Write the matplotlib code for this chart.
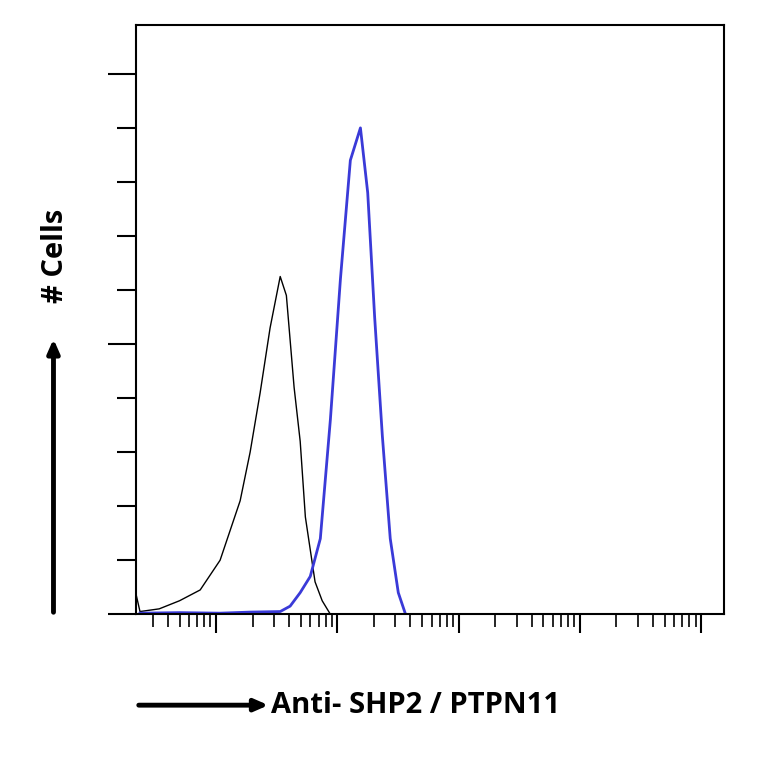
import numpy as np
from matplotlib import pyplot as plt
from matplotlib.ticker import LogLocator, NullFormatter, MultipleLocator

# Données (intensité, nombre de cellules en unités de graduation)
isotype_x = [2.1, 2.36, 3.4, 5.0, 7.4, 10.8, 15.8, 19.1, 23.1, 27.9, 33.8, 38.0, 44.0, 49.4, 54.5, 65.5, 75.0, 87.6]
isotype_y = [0.55, 0.05, 0.1, 0.25, 0.45, 1.0, 2.1, 3.0, 4.1, 5.3, 6.25, 5.9, 4.2, 3.2, 1.8, 0.6, 0.25, 0.0]

shp2_x = [2.36, 5.0, 10.8, 19.1, 33.8, 40.8, 49.4, 59.8, 72.4, 87.6, 106, 128, 155, 178, 203, 235, 273, 318, 365]
shp2_y = [0.02, 0.03, 0.02, 0.04, 0.05, 0.15, 0.4, 0.7, 1.4, 3.6, 6.2, 8.4, 9.0, 7.8, 5.5, 3.3, 1.4, 0.4, 0.0]

fig = plt.figure(figsize=(7.64, 7.64), dpi=100)
ax = fig.add_axes([0.178, 0.196, 0.77, 0.771])

ax.plot(isotype_x, isotype_y, color="black", lw=1.0)
ax.plot(shp2_x, shp2_y, color="#3a3ad8", lw=2.0)

ax.set_xscale("log")
ax.set_xlim(10 ** 0.34, 10 ** 5.19)
ax.set_ylim(0, 10.9)
ax.xaxis.set_major_locator(LogLocator(base=10, numticks=10))
ax.xaxis.set_minor_locator(LogLocator(base=10, subs=np.arange(2, 10), numticks=20))
ax.xaxis.set_major_formatter(NullFormatter())
ax.xaxis.set_minor_formatter(NullFormatter())
ax.yaxis.set_major_locator(MultipleLocator(5))
ax.yaxis.set_minor_locator(MultipleLocator(1))
ax.yaxis.set_major_formatter(NullFormatter())
ax.tick_params(axis="x", which="major", length=14, width=1.5, direction="out")
ax.tick_params(axis="x", which="minor", length=9, width=1.2, direction="out")
ax.tick_params(axis="y", which="major", length=20, width=1.5, direction="out")
ax.tick_params(axis="y", which="minor", length=14, width=1.5, direction="out")
for s in ax.spines.values():
    s.set_linewidth(1.5)

# Libellés avec flèches
arrow = dict(arrowstyle="-|>,head_length=0.8,head_width=0.35", color="black", lw=3.5)
fig.text(0.355, 0.077, "Anti- SHP2 / PTPN11", fontsize=21, fontweight="bold",
         family="Open Sans", ha="left", va="center")
ax.annotate("", xy=(0.355, 0.077), xytext=(0.178, 0.077),
            xycoords="figure fraction", textcoords="figure fraction", arrowprops=arrow)
fig.text(0.072, 0.665, "# Cells", fontsize=21, fontweight="bold", family="Open Sans",
         rotation=90, ha="center", va="center")
ax.annotate("", xy=(0.07, 0.56), xytext=(0.07, 0.195),
            xycoords="figure fraction", textcoords="figure fraction", arrowprops=arrow)

fig.savefig("out.png", dpi=100)
